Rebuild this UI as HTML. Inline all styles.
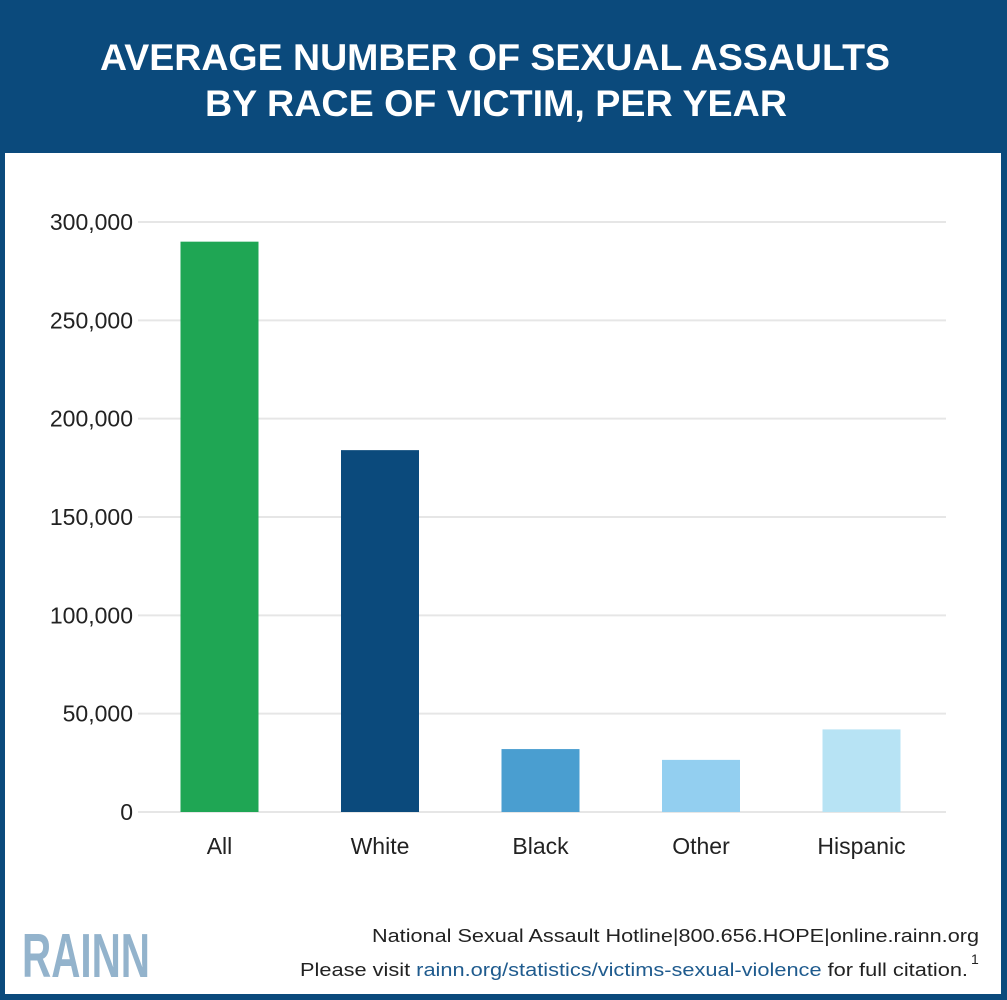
<!DOCTYPE html>
<html><head><meta charset="utf-8"><style>
body{margin:0;width:1007px;height:1000px;background:#0b4a7c;overflow:hidden;font-family:"Liberation Sans","DejaVu Sans",sans-serif}
#panel{position:absolute;left:5px;top:153px;width:996px;height:841px;background:#fff}
</style></head><body>
<div id="panel"></div>
<svg id="chart" width="1007" height="1000" style="position:absolute;left:0;top:0">
<text x="495" y="70" text-anchor="middle" font-size="37" font-weight="bold" fill="#fff" textLength="790" lengthAdjust="spacingAndGlyphs">AVERAGE NUMBER OF SEXUAL ASSAULTS</text>
<text x="496" y="116" text-anchor="middle" font-size="37" font-weight="bold" fill="#fff" textLength="582" lengthAdjust="spacingAndGlyphs">BY RACE OF VICTIM, PER YEAR</text>
<g id="grid"></g><g id="bars"></g><g id="labels"></g>
<text x="22" y="977" font-size="62" font-weight="bold" fill="#93b3cc" textLength="128" lengthAdjust="spacingAndGlyphs">RAINN</text>
<text x="372" y="942" font-size="18.5" fill="#222" textLength="607" lengthAdjust="spacingAndGlyphs">National Sexual Assault Hotline|800.656.HOPE|online.rainn.org</text>
<text x="300" y="976" font-size="18.5" fill="#222" textLength="668" lengthAdjust="spacingAndGlyphs">Please visit <tspan fill="#1f5b8e">rainn.org/statistics/victims-sexual-violence</tspan> for full citation.</text>
<text x="971" y="964" font-size="14" fill="#222">1</text>
</svg>
<script>
const categories=["All","White","Black","Other","Hispanic"];
const values=[290000,184000,32000,26500,42000];
const colors=["#1fa654","#0b4a7c","#4a9ed0","#93cff0","#b7e3f4"];
const ticks=[0,50000,100000,150000,200000,250000,300000];
const tickLabels=["0","50,000","100,000","150,000","200,000","250,000","300,000"];
const ns="http://www.w3.org/2000/svg";
const y=v=>812-v/300000*590;
const x=i=>219.5+i*160.5;
const g=document.getElementById('grid'),b=document.getElementById('bars'),l=document.getElementById('labels');
function mk(tag,attrs,parent,txt){const e=document.createElementNS(ns,tag);for(const k in attrs)e.setAttribute(k,attrs[k]);if(txt!==undefined)e.textContent=txt;parent.appendChild(e);return e;}
ticks.forEach((t,i)=>{
 const ln=mk('line',{x1:138,x2:946,y1:y(t),y2:y(t),stroke:'#e6e6e6','stroke-width':2},g);
 
 
 const tx=mk('text',{x:133,y:y(t)+8,'text-anchor':'end','font-size':23,fill:'#222'},l,tickLabels[i]);
 
 
});
categories.forEach((c,i)=>{
 const r=mk('rect',{x:x(i)-39,y:y(values[i]),width:78,height:812-y(values[i]),fill:colors[i]},b);
 
 
 const tx=mk('text',{x:x(i),y:854,'text-anchor':'middle','font-size':23,fill:'#222'},l,c);
 
 
});
</script>
</body></html>
